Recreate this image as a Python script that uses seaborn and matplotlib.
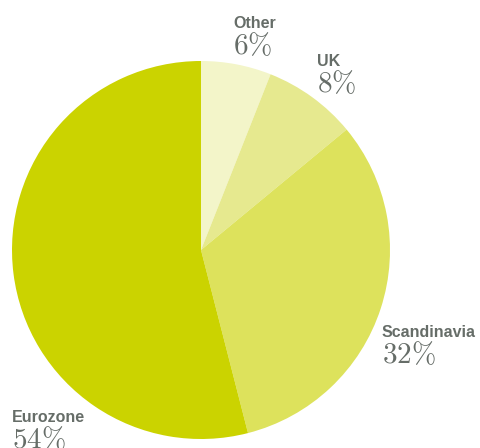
import matplotlib
matplotlib.use("Agg")
import matplotlib.pyplot as plt
import seaborn as sns

# Regional breakdown
regions = ["Other", "UK", "Scandinavia", "Eurozone"]
shares = [6, 8, 32, 54]
colors = ["#f3f5c9", "#e6e98f", "#dde25c", "#cbd300"]

# Label anchor points (left edge, name baseline) in pixels from top-left
label_x = [233, 317, 382, 12]
label_y = [28, 66, 337, 422]

sns.set_theme(style="white")
plt.rcParams["mathtext.fontset"] = "cm"

W, H = 480, 448
fig = plt.figure(figsize=(W / 100, H / 100), dpi=100)
fig.patch.set_facecolor("white")

# Pie occupies a square region, centre ~(201, 250), radius ~189 px
cx, cy, r = 201, 250, 189
ax = fig.add_axes([(cx - r) / W, (H - cy - r) / H, 2 * r / W, 2 * r / H])
ax.pie(shares, colors=sns.color_palette(colors), startangle=90,
       counterclock=False, radius=1.0,
       wedgeprops=dict(linewidth=0))
ax.set_xlim(-1, 1)
ax.set_ylim(-1, 1)
ax.set_aspect("equal")
ax.axis("off")

text_color = "#666d68"
for name, val, lx, ly in zip(regions, shares, label_x, label_y):
    fig.text(lx / W, 1 - ly / H, name, ha="left", va="baseline",
             fontsize=11.5, fontweight="bold", color=text_color,
             family="Liberation Sans")
    fig.text(lx / W, 1 - (ly + 26) / H, r"$\mathrm{%d\%%}$" % val,
             ha="left", va="baseline", fontsize=21, color=text_color)

fig.savefig("out.png", dpi=100)
